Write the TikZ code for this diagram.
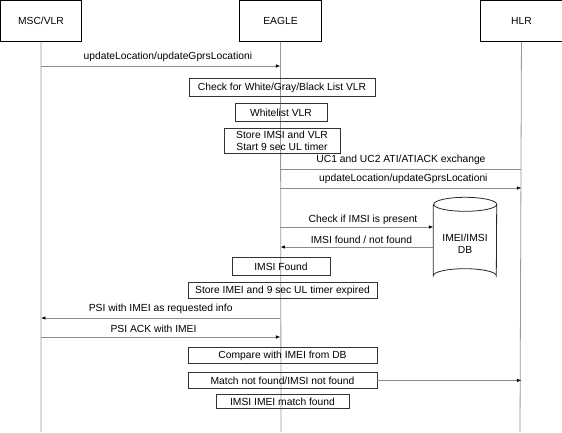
\documentclass[tikz,border=0pt]{standalone}
\usepackage{fontspec}
\setmainfont{Liberation Sans}
\usetikzlibrary{arrows.meta,calc}
\tikzset{
  x=1pt, y=-1pt,
  every node/.style={font=\fontsize{10.3}{11.5}\selectfont, inner sep=0pt},
  head/.style={draw=black, line width=0.9pt, minimum height=41pt, anchor=north west},
  life/.style={draw=black!40, line width=0.8pt},
  msg/.style={draw=black!45, line width=0.7pt, -{Latex[length=4.5pt,width=3.5pt,color=black]}},
  plain/.style={draw=black!45, line width=0.7pt},
  act/.style={draw=black!80, line width=0.8pt, align=center, anchor=north},
  lbl/.style={anchor=south}
}
\begin{document}
\begin{tikzpicture}
\useasboundingbox (0,0) rectangle (562,432);
% headers
\node[head, minimum width=81pt] (msc) at (0,0) {MSC/VLR};
\node[head, minimum width=82pt] (eagle) at (239,0) {EAGLE};
\node[head, minimum width=82pt] (hlr) at (480,0) {HLR};
\coordinate (mscend) at (41,432);
\coordinate (eagleend) at (281,432);
\coordinate (hlrend) at (520,432);
\draw[life] (msc.south) -- (mscend);
\draw[life] (eagle.south) -- (eagleend);
\draw[life] (hlr.south) -- (hlrend);
% message 1
\draw[msg] (msc |- 0,66) -- node[lbl, pos=0.53, yshift=4pt] (m1) {updateLocation/updateGprsLocationi} (eagle |- 0,66);
% activity boxes
\node[act, minimum width=186pt, minimum height=18pt] (chk) at (282,78) {Check for White/Gray/Black List VLR};
\node[act, minimum width=92pt, minimum height=18pt] (wl) at (281,103) {Whitelist VLR};
\node[act, minimum width=116pt, minimum height=25pt] (st) at (282,128) {Store IMSI and VLR\\Start 9 sec UL timer};
% UC1
\draw[plain] (hlr |- 0,169) -- node[lbl, pos=0.5, yshift=4pt] (uc) {UC1 and UC2 ATI/ATIACK exchange} (eagle |- 0,169);
\draw[msg] (eagle |- 0,188) -- node[lbl, pos=0.51, yshift=4pt] (ul2) {updateLocation/updateGprsLocationi} (hlr |- 0,188);
% DB
\node[minimum width=63pt, minimum height=85pt] (db) at (465,240) {};
\node[align=center] (dbt) at (465,244) {IMEI/IMSI\\DB};
\draw[draw=black!85, line width=0.8pt]
  ($(db.north west)+(0,7)$) -- ($(db.south west)+(0,-7)$)
  arc[start angle=180, end angle=360, x radius=31.5pt, y radius=-7pt]
  -- ($(db.north east)+(0,7)$)
  arc[start angle=0, end angle=-360, x radius=31.5pt, y radius=-7pt];
\draw[msg] (eagle |- 0,227) -- node[lbl, pos=0.54, yshift=2pt] (ck) {Check if IMSI is present} (db.west |- 0,227);
\draw[msg] (db.west |- 0,247) -- node[lbl, pos=0.47, yshift=3pt] (fd) {IMSI found / not found} (eagle |- 0,247);
\node[act, minimum width=98pt, minimum height=18pt] (imf) at (281,257) {IMSI Found};
\node[act, minimum width=189pt, minimum height=16pt] (sti) at (282.5,282) {Store IMEI and 9 sec UL timer expired};
\draw[msg] (eagle |- 0,318) -- node[lbl, pos=0.5, yshift=4pt] (psi) {PSI with IMEI as requested info} (msc |- 0,318);
\draw[msg] (msc |- 0,337) -- node[lbl, pos=0.47, yshift=4pt] (ack) {PSI ACK with IMEI} (eagle |- 0,337);
\node[act, minimum width=189pt, minimum height=16pt] (cmp) at (282.5,347) {Compare with IMEI from DB};
\node[act, minimum width=189pt, minimum height=16pt] (mnf) at (282.5,372) {Match not found/IMSI not found};
\draw[msg] (mnf.east) -- (hlr |- mnf.east);
\node[act, minimum width=133pt, minimum height=14pt] (mf) at (282.5,394) {IMSI IMEI match found};
\end{tikzpicture}
\end{document}
